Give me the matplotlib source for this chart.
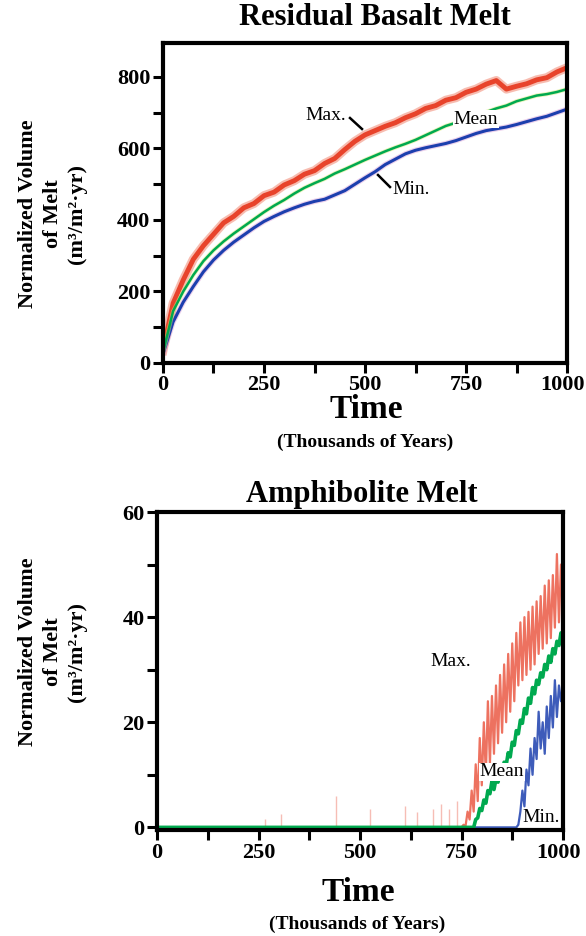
import matplotlib.pyplot as plt
import matplotlib.transforms as mtransforms
import numpy as np

plt.rcParams['font.family'] = ['Liberation Serif', 'DejaVu Serif']

# ---- Residual basalt melt (top panel), every 25 kyr from 0 to 1000
years_top = list(range(0, 1001, 25))
max_top = [35, 167, 232, 290, 328, 360, 392, 410, 434, 446, 468, 478, 498, 510,
           528, 538, 558, 572, 597, 620, 638, 650, 662, 672, 686, 697, 712, 720,
           735, 742, 757, 766, 780, 790, 766, 774, 781, 792, 798, 814, 826]
mean_top = [30, 145, 200, 246, 285, 315, 340, 362, 382, 402, 422, 440, 456, 474,
            490, 503, 515, 530, 542, 555, 568, 580, 592, 603, 613, 624, 637, 650,
            663, 672, 682, 693, 702, 712, 720, 732, 740, 748, 752, 758, 766]
min_top = [25, 115, 170, 214, 255, 288, 315, 338, 358, 378, 396, 410, 423, 434,
           444, 452, 458, 470, 482, 500, 518, 535, 555, 570, 585, 595, 602, 608,
           614, 622, 632, 642, 650, 655, 660, 667, 675, 683, 690, 700, 710]

# ---- Amphibolite melt (bottom panel)
years_bot_max = [0] + list(range(750, 1001, 5))
max_bot = [0, 0, 0.5, 0.3, 3, 1.5, 7, 3, 12, 5, 17, 8, 20, 10, 24, 12, 25, 14, 27,
           16, 29, 18, 31, 20, 33, 22, 35, 24, 37, 27, 39, 28, 40, 29, 41, 30, 42,
           31, 43, 33, 44, 34, 46, 35, 47, 36, 48, 38, 52, 39, 50, 42]
years_bot_mean = [0] + list(range(780, 1001, 5))
mean_bot = [0, 0, 1.5, 1.8, 3.6, 3.2, 5.2, 4.6, 7, 6.4, 8.8, 7.2, 9.2, 8.6, 10.8,
            10.2, 12.4, 11.8, 14.2, 13.4, 16.2, 15.6, 18.4, 17.8, 20.4, 19.8, 22.6,
            21.6, 24.6, 23.6, 26.6, 25.4, 28, 27.2, 29.4, 28.6, 31, 30, 32.6, 31.4,
            34, 33, 35.4, 34.6, 37, 35.6]
years_bot_min = [0] + list(range(885, 1001, 5))
min_bot = [0, 0, 0.5, 3, 7, 4, 11, 8, 15, 10, 17, 13, 22, 15, 20, 14, 23, 17, 25,
           19, 28, 21, 27, 24, 26]
spike_years = [265, 305, 440, 525, 610, 640, 680, 700, 718, 738]
spike_heights = [1.5, 2.5, 6, 3.5, 4, 3, 3.5, 4.5, 3.5, 5]

RED = '#e8432b'
GREEN = '#00a94f'
BLUE = '#1c3fae'

fig = plt.figure(figsize=(5.86, 9.36), dpi=100)
ax1 = fig.add_axes([163/586, 1-363/936, 404/586, 320/936])
ax2 = fig.add_axes([157/586, 1-830/936, 406/586, 318/936])


def px(x, y):
    # figure pixels (top-left origin) -> figure fraction
    return x/586, 1-y/936


def style(ax, ymax, ymajor, yminor, ymin=0):
    ax.set_xlim(0, 1000)
    ax.set_ylim(ymin, ymax)
    ax.set_xticks([0, 250, 500, 750, 1000])
    ax.set_xticks([125, 375, 625, 875], minor=True)
    ax.set_yticks(ymajor)
    ax.set_yticks(yminor, minor=True)
    ax.tick_params(which='both', direction='out', length=7, width=2.2,
                   labelsize=16, pad=2, top=False, right=False)
    for lab in ax.get_xticklabels() + ax.get_yticklabels():
        lab.set_fontweight('bold')
    # pull the last x label in a little, as in the original
    last = ax.get_xticklabels()[-1]
    last.set_transform(last.get_transform() +
                       mtransforms.ScaledTranslation(-5/100, 0, fig.dpi_scale_trans))
    for s in ax.spines.values():
        s.set_linewidth(3)


# top panel
ax1.plot(years_top, max_top, color='#f07a62', lw=6.5, alpha=0.5)
ax1.plot(years_top, max_top, color=RED, lw=3.5)
ax1.plot(years_top, min_top, color='#c87ac8', lw=3.8, alpha=0.35)
ax1.plot(years_top, min_top, color=BLUE, lw=2.2)
ax1.plot(years_top, mean_top, color='#d8e870', lw=3, alpha=0.5)
ax1.plot(years_top, mean_top, color=GREEN, lw=1.8)
style(ax1, 895, [0, 200, 400, 600, 800], [100, 300, 500, 700])

fig.text(*px(326, 116), 'Max.', fontsize=14, ha='center', va='center')
fig.text(*px(476, 119), 'Mean', fontsize=14, ha='center', va='center',
         bbox=dict(facecolor='white', edgecolor='none', pad=0.5))
fig.text(*px(411, 189), 'Min.', fontsize=14, ha='center', va='center')

for (x0, y0, x1, y1) in [(350, 118, 362, 129), (378, 175, 390, 187)]:
    a, b = px(x0, y0)
    c, d = px(x1, y1)
    fig.add_artist(plt.Line2D([a, c], [b, d], color='black', lw=1.8))

# bottom panel
ax2.vlines(spike_years, 0, spike_heights, color=RED, lw=1.0, alpha=0.35)
ax2.plot(years_bot_max, max_bot, color=RED, lw=1.6, alpha=0.75)
ax2.plot(years_bot_min, min_bot, color=BLUE, lw=1.6, alpha=0.85)
ax2.plot(years_bot_mean, mean_bot, color=GREEN, lw=2.6)
style(ax2, 60, [0, 20, 40, 60], [10, 30, 50], ymin=-0.5)

for txt, x, y, box in [('Max.', 451, 661, False), ('Mean', 502, 772, True),
                       ('Min.', 541, 817, True)]:
    kw = dict(bbox=dict(facecolor='white', edgecolor='none', pad=0.5)) if box else {}
    fig.text(*px(x, y), txt, fontsize=14, ha='center', va='center', **kw)

# titles and axis labels
fig.text(*px(375, 25), 'Residual Basalt Melt', fontsize=22, fontweight='bold',
         ha='center', va='baseline')
fig.text(*px(362, 502), 'Amphibolite Melt', fontsize=22, fontweight='bold',
         ha='center', va='baseline')

fig.text(*px(366, 418), 'Time', fontsize=24, fontweight='bold',
         ha='center', va='baseline')
fig.text(*px(365, 442), '(Thousands of Years)', fontsize=14, fontweight='bold',
         ha='center', va='center')
fig.text(*px(358, 901), 'Time', fontsize=24, fontweight='bold',
         ha='center', va='baseline')
fig.text(*px(357, 924), '(Thousands of Years)', fontsize=14, fontweight='bold',
         ha='center', va='center')

ylab = 'Normalized Volume\nof Melt\n(m³/m²·yr)'
fig.text(*px(53, 214), ylab, fontsize=16, fontweight='bold', rotation=90,
         ha='center', va='center', multialignment='center', linespacing=1.3)
fig.text(*px(53, 652), ylab, fontsize=16, fontweight='bold', rotation=90,
         ha='center', va='center', multialignment='center', linespacing=1.3)

fig.savefig('out.png', dpi=100)
